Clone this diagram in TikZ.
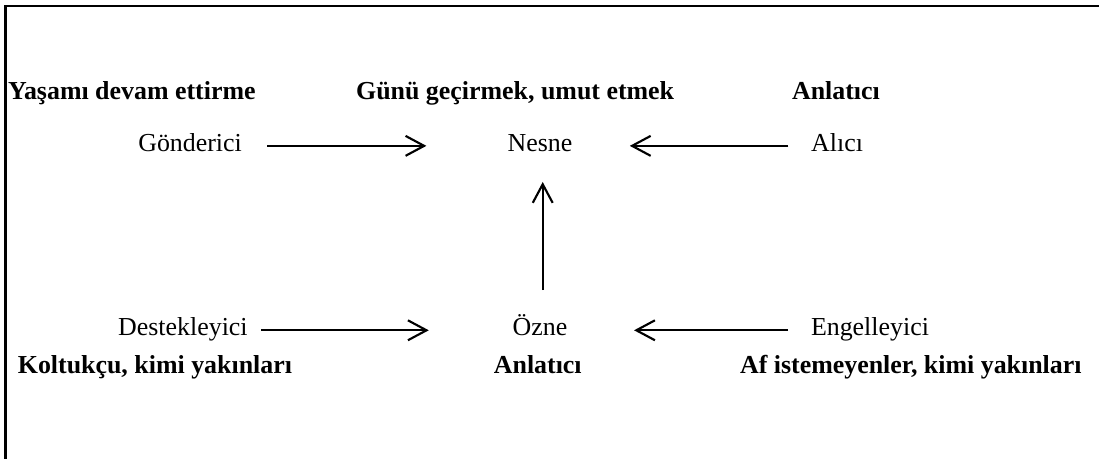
\documentclass[tikz,border=0pt]{standalone}
\usepackage{fontspec}
\setmainfont{Liberation Serif}
\usetikzlibrary{arrows.meta}
\begin{document}
\begin{tikzpicture}[%
% common options for the actant names:
actant/.style = {rectangle, anchor=base, inner sep=0, text height=12pt, text depth=4pt,
            font=\fontsize{19.5}{23}\selectfont},
% common options for the bold role labels:
role/.style = {rectangle, anchor=base, inner sep=0,
            font=\fontsize{19.5}{23}\selectfont\bfseries},
% common options for the arrows:
arr/.style = {-{Straight Barb[length=14pt,width=15pt,line width=1.6pt]}, line width=1.6pt}]
\useasboundingbox (0,0) rectangle (29.08,-12.14);
\draw[line width=2pt] (29.08,-0.16) -- (0.15,-0.16) -- (0.15,-12.14);
\node[role] (R1) at (3.49,-2.62) {Yaşamı devam ettirme};
\node[role] (R2) at (13.63,-2.62) {Günü geçirmek, umut etmek};
\node[role] (R3) at (22.12,-2.62) {Anlatıcı};
\node[actant] (A1) at (5.03,-4.00) {Gönderici};
\node[actant] (A2) at (14.29,-4.00) {Nesne};
\node[actant] (A3) at (22.15,-4.00) {Alıcı};
\node[actant] (B1) at (4.84,-8.88) {Destekleyici};
\node[actant] (B2) at (14.29,-8.88) {Özne};
\node[actant] (B3) at (23.02,-8.88) {Engelleyici};
\node[role] (R4) at (4.10,-9.88) {Koltukçu, kimi yakınları};
\node[role] (R5) at (14.23,-9.88) {Anlatıcı};
\node[role] (R6) at (24.10,-9.88) {Af istemeyenler, kimi yakınları};
\draw[arr] ([xshift=19pt]A1.east) to ([xshift=-61pt]A2.west);
\draw[arr] ([xshift=-17pt]A3.west) to ([xshift=43pt]A2.east);
\draw[arr] ([xshift=2pt,yshift=22pt]B2.north) to ([xshift=2pt,yshift=-19pt]A2.south);
\draw[arr] ([xshift=10pt]B1.east) to ([xshift=-63pt]B2.west);
\draw[arr] ([xshift=-17pt]B3.west) to ([xshift=50pt]B2.east);
\end{tikzpicture}
\end{document}
